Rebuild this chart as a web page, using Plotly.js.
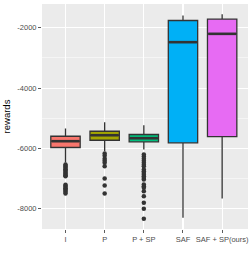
<!DOCTYPE html>
<html><head><meta charset="utf-8">
<script src="https://cdn.plot.ly/plotly-3.0.1.min.js"></script>
<style>html,body{margin:0;padding:0;background:#fff}#chart{width:249px;height:258px}</style>
</head><body><div id="chart"></div>
<script>
const categories = ["I", "P", "P + SP", "SAF", "SAF + SP(ours)"];
const colors = ["#F8766D", "#A3A500", "#00BF7D", "#00B0F6", "#E76BF3"];
const q1 = [-5969, -5728, -5781, -5815, -5605];
const median = [-5760, -5562, -5661, -2476, -2199];
const q3 = [-5595, -5429, -5538, -1757, -1713];
const lowerWhisker = [-6470, -6092, -6036, -8302, -7661];
const upperWhisker = [-5336, -5130, -5230, -1591, -1548];
const outliersI = [-6530, -6570, -6610, -6650, -6690, -6730, -6770, -6810, -6850, -6890, -6920,
                   -7200, -7240, -7280, -7320, -7360, -7400, -7440, -7496];
const outliersP = [-6169, -6240, -6345, -6410, -6478, -6590, -6998, -7230, -7495];
const outliersPSP = [-6202, -6270, -6345, -6410, -6478, -6540, -6590, -6700, -6760, -6810, -6870, -6921,
                     -6980, -7031, -7197, -7250, -7306, -7418, -7583, -7804, -8003, -8335];
const outliers = [outliersI, outliersP, outliersPSP, [], []];
const yTicks = [-8000, -6000, -4000, -2000];

const boxWidth = 0.75;
const traces = [];
categories.forEach((c, i) => {
  traces.push({
    type: "box", x: [i], q1: [q1[i]], median: [median[i]], q3: [q3[i]],
    lowerfence: [lowerWhisker[i]], upperfence: [upperWhisker[i]],
    width: boxWidth, whiskerwidth: 0, boxpoints: false,
    fillcolor: colors[i], line: {color: "#333333", width: 1.3},
    showlegend: false, hoverinfo: "skip"
  });
});
categories.forEach((c, i) => {
  traces.push({
    type: "scatter", mode: "lines", x: [i - boxWidth/2 + 0.02, i + boxWidth/2 - 0.02], y: [median[i], median[i]],
    line: {color: "#333333", width: 2.6}, showlegend: false, hoverinfo: "skip"
  });
  if (outliers[i].length) {
    traces.push({
      type: "scatter", mode: "markers", x: outliers[i].map(() => i), y: outliers[i],
      marker: {color: "#333333", size: 4.5}, showlegend: false, hoverinfo: "skip"
    });
  }
});

const layout = {
  width: 249, height: 258,
  margin: {l: 42, r: 1, t: 4, b: 29},
  paper_bgcolor: "#FFFFFF", plot_bgcolor: "#EBEBEB",
  font: {family: "Liberation Sans, Arial, sans-serif", color: "#4D4D4D", size: 7.5},
  boxmode: "overlay",
  xaxis: {
    range: [-0.6, 4.66], tickvals: categories.map((c, i) => i), ticktext: categories,
    showgrid: true, gridcolor: "#FFFFFF", gridwidth: 1.1, zeroline: false,
    ticks: "outside", ticklen: 3, tickcolor: "#333333", tickwidth: 0.8,
    tickfont: {size: 7.5, color: "#4D4D4D"}, showline: false, fixedrange: true,
    ticklabeloverflow: "allow", tickangle: 0
  },
  yaxis: {
    range: [-8671, -1210], tickvals: yTicks, ticktext: yTicks.map(v => "-" + Math.abs(v)),
    showgrid: true, gridcolor: "#FFFFFF", gridwidth: 1.1, zeroline: false,
    ticks: "outside", ticklen: 3, tickcolor: "#333333", tickwidth: 0.8,
    tickfont: {size: 7.5, color: "#4D4D4D"},
    minor: {dtick: 1000, tick0: 0, showgrid: true, gridcolor: "#FFFFFF", gridwidth: 0.5, ticks: ""},
    title: {text: "rewards", font: {size: 9.5, color: "#000000"}, standoff: 4},
    showline: false, fixedrange: true
  }
};
Plotly.newPlot("chart", traces, layout, {displayModeBar: false, staticPlot: true});
</script></body></html>
